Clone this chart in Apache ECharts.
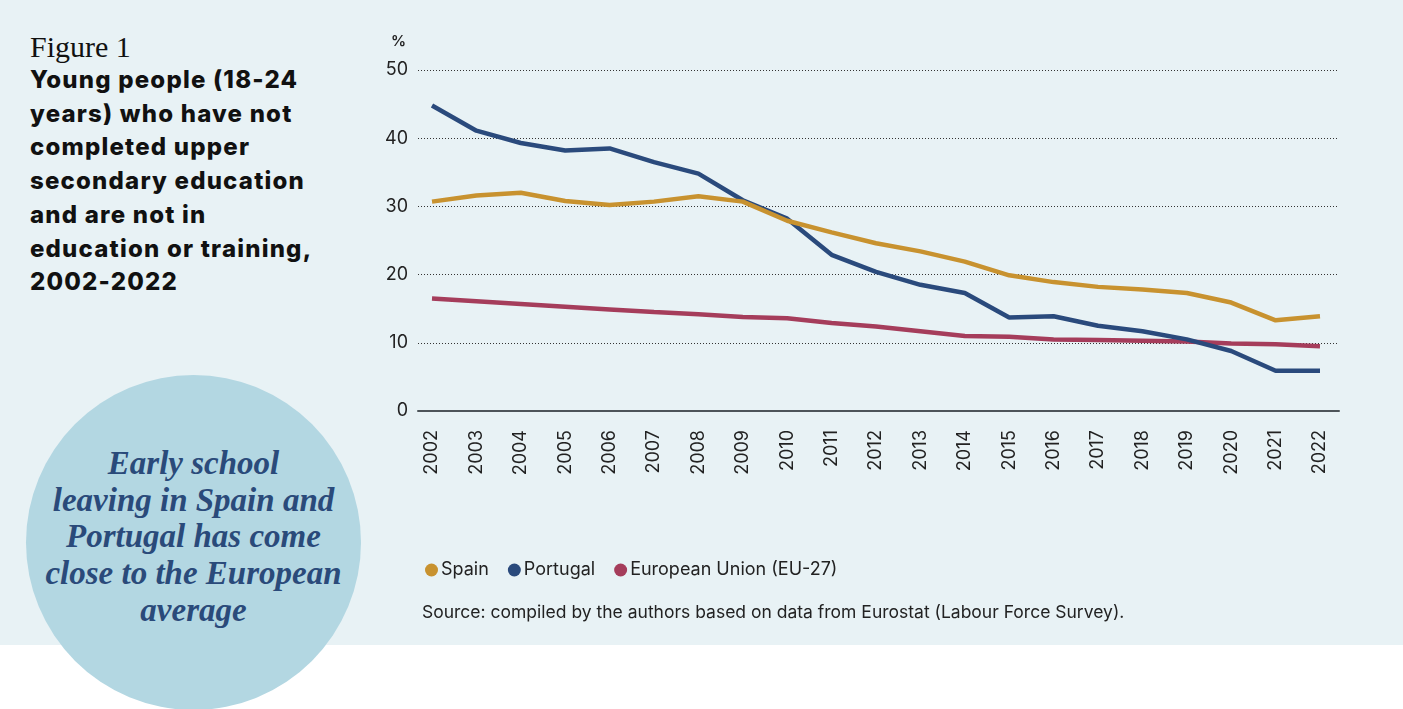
<!DOCTYPE html>
<html>
<head>
<meta charset="utf-8">
<script src="https://cdn.jsdelivr.net/npm/echarts@6/dist/echarts.min.js"></script>
<style>
  html, body { margin: 0; padding: 0; background: #ffffff; }
  #page { position: relative; width: 1403px; height: 709px; overflow: hidden; }
  #band { position: absolute; left: 0; top: 0; width: 1403px; height: 645px; background: #e8f2f5; }
  #circle { position: absolute; left: 26px; top: 375px; width: 335px; height: 335px; border-radius: 50%; background: #b3d7e2; }
  #quote { position: absolute; left: 16px; top: 445px; width: 355px; text-align: center;
    font-family: "Liberation Serif", "DejaVu Serif", serif; font-style: italic; font-weight: 700; font-size: 33px;
    line-height: 36.7px; color: #2a4a7a; }
  #fig { position: absolute; left: 30px; top: 30px; font-family: "Liberation Serif", serif; font-size: 30px; color: #111; }
  #title { position: absolute; left: 30px; top: 63px; width: 340px; font-family: Inter, "Noto Sans", sans-serif;
    font-weight: 800; font-size: 24px; letter-spacing: 1.2px; line-height: 33.7px; color: #111; }
  #main { position: absolute; left: 0; top: 0; width: 1403px; height: 709px; }
</style>
</head>
<body>
<div id="page">
  <div id="band"></div>
  <div id="circle"></div>
  <div id="quote">Early school<br>leaving in Spain and<br>Portugal has come<br>close to the European<br>average</div>
  <div id="fig">Figure 1</div>
  <div id="title">Young people (18-24<br>years) who have not<br>completed upper<br>secondary education<br>and are not in<br>education or training,<br>2002-2022</div>
  <div id="main"></div>
</div>
<script>
// años
var years = ['2002', '2003', '2004', '2005', '2006', '2007', '2008', '2009', '2010', '2011', '2012',
  '2013', '2014', '2015', '2016', '2017', '2018', '2019', '2020', '2021', '2022'];
// valores (%)
var spain = [30.7, 31.6, 32.0, 30.8, 30.2, 30.7, 31.5, 30.7, 27.9, 26.2, 24.6,
  23.4, 21.9, 19.9, 18.9, 18.2, 17.8, 17.3, 15.9, 13.3, 13.9];
var portugal = [44.8, 41.1, 39.3, 38.2, 38.5, 36.5, 34.8, 30.9, 28.2, 22.9, 20.4,
  18.5, 17.3, 13.7, 13.9, 12.5, 11.7, 10.5, 8.8, 5.9, 5.9];
var eu27 = [16.5, 16.1, 15.7, 15.3, 14.9, 14.5, 14.2, 13.8, 13.6, 12.9, 12.4,
  11.7, 11.0, 10.9, 10.5, 10.4, 10.3, 10.2, 9.9, 9.8, 9.5];
var yTicks = [0, 10, 20, 30, 40, 50];

var colors = { spain: '#c8922f', portugal: '#2a4a7c', eu: '#a53d5b' };
var sans = 'Inter, "Noto Sans", sans-serif';

var myChart = echarts.init(document.getElementById('main'));

var option = {
  backgroundColor: 'transparent',
  animation: false,
  textStyle: { fontFamily: sans },
  // grid 0: ejes y lineas de rejilla, grid 1: datos
  grid: [
    { left: 418, right: 64, top: 70, bottom: 298 },
    { left: 432, right: 83, top: 70, bottom: 298 }
  ],
  legend: {
    data: ['Spain', 'Portugal', 'European Union (EU-27)'],
    left: 420, top: 556,
    icon: 'circle', itemWidth: 13, itemHeight: 13, itemGap: 19,
    textStyle: { fontSize: 18, color: '#222', fontFamily: sans, padding: [0, 0, 0, -2] }
  },
  graphic: [
    { type: 'text', left: 391, top: 34, style: { text: '%', font: '600 15px ' + sans, fill: '#222' } },
    { type: 'text', left: 422, top: 604,
      style: { text: 'Source: compiled by the authors based on data from Eurostat (Labour Force Survey).',
        font: '17.5px ' + sans, fill: '#222' } }
  ],
  xAxis: [
    {
      gridIndex: 0, type: 'value', min: 0, max: 1,
      axisLine: { lineStyle: { color: '#4d5459', width: 2 } },
      axisTick: { show: false }, axisLabel: { show: false }, splitLine: { show: false }
    },
    {
      gridIndex: 1, type: 'category', data: years, boundaryGap: false,
      axisLine: { show: false }, axisTick: { show: false },
      axisLabel: { rotate: 90, fontSize: 18, color: '#222', margin: 19 }
    }
  ],
  yAxis: [
    {
      gridIndex: 0, type: 'value', min: yTicks[0], max: yTicks[yTicks.length - 1], interval: 10,
      axisLine: { show: false }, axisTick: { show: false },
      axisLabel: { fontSize: 18, color: '#222', margin: 10 },
      splitLine: { lineStyle: { color: '#333', type: [1, 2], width: 1 } }
    },
    {
      gridIndex: 1, type: 'value', min: 0, max: 50, show: false, splitLine: { show: false }
    }
  ],
  series: [
    {
      name: 'Portugal', type: 'line', data: portugal, xAxisIndex: 1, yAxisIndex: 1, z: 3,
      symbol: 'none', color: colors.portugal, lineStyle: { width: 4.5 }
    },
    {
      name: 'European Union (EU-27)', type: 'line', data: eu27, xAxisIndex: 1, yAxisIndex: 1, z: 2,
      symbol: 'none', color: colors.eu, lineStyle: { width: 4.5 }
    },
    {
      name: 'Spain', type: 'line', data: spain, xAxisIndex: 1, yAxisIndex: 1, z: 4,
      symbol: 'none', color: colors.spain, lineStyle: { width: 4.5 }
    }
  ]
};

myChart.setOption(option);
</script>
</body>
</html>
